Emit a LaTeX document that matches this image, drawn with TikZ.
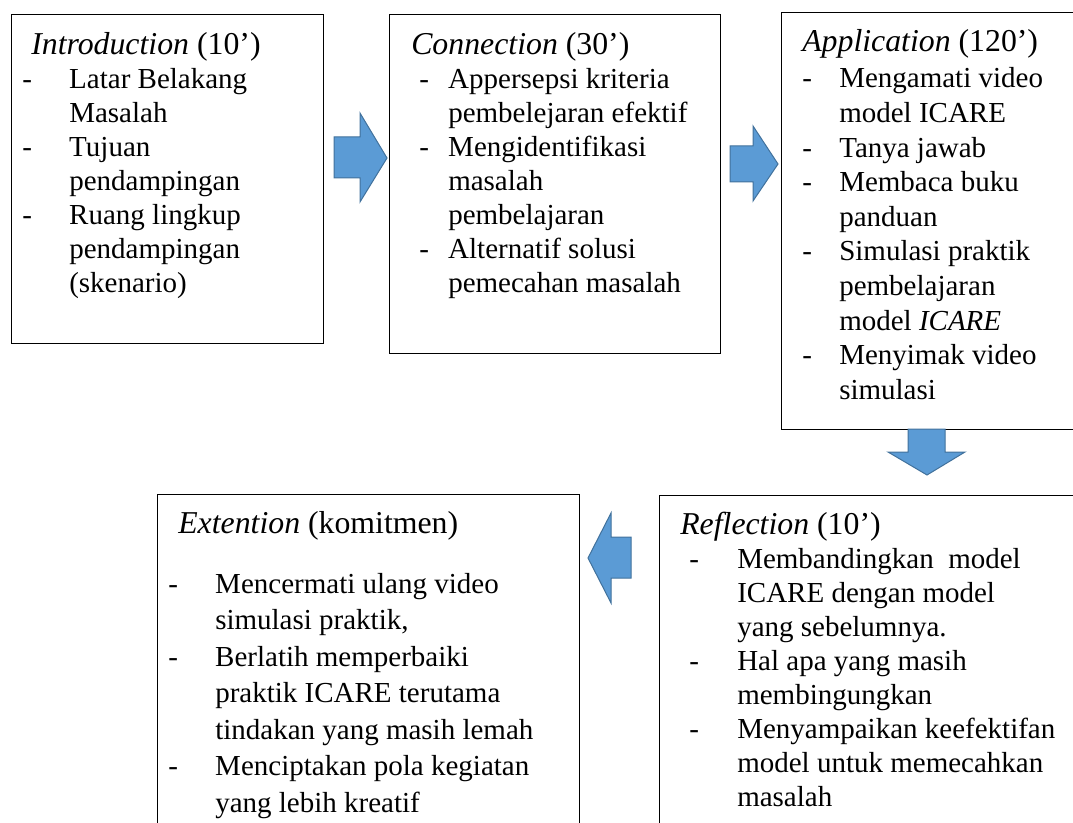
\documentclass[tikz,border=0pt]{standalone}
\usepackage{fontspec}
\setmainfont{Liberation Serif}
\usepackage{array}
\usetikzlibrary{fit}
\definecolor{arrowblue}{HTML}{5B9BD5}
\definecolor{arrowedge}{HTML}{41719C}
\tikzset{
  box/.style={draw=black, line width=0.75pt, inner sep=0pt},
  blk/.style={fill=arrowblue, draw=arrowedge, line width=0.75pt, line join=miter},
  ttl/.style={anchor=base west, inner sep=0pt, font=\fontsize{23.85}{28}\selectfont},
  itm/.style={anchor=base west, inner sep=0pt},
}
\newcommand\itemlist[3]{{\fontsize{21.75}{#2}\selectfont\begin{tabular}[t]{@{}p{#1}@{}l@{}}#3\end{tabular}}}
\begin{document}
\begin{tikzpicture}[x=0.75pt,y=-0.75pt]
\useasboundingbox (0,0) rectangle (1073,823);
\clip (0,0) rectangle (1073,823);
% boxes
\node[box, fit={(11,15)(323,343)}] (intro) {};
\node[box, fit={(389,15)(720,353)}] (conn) {};
\node[box, overlay, fit={(781,13)(1090,429)}] (appl) {};
\node[box, overlay, fit={(659,495)(1090,860)}] (refl) {};
\node[box, overlay, fit={(157,494)(579,860)}] (ext) {};
% texts
\node[ttl] (introT) at (31,55) {\textit{Introduction} (10’)};
\node[itm] (introI) at (22,89) {\itemlist{35.25pt}{25.4pt}{%
- & Latar Belakang\\ & Masalah\\
- & Tujuan\\ & pendampingan\\
- & Ruang lingkup\\ & pendampingan\\ & (skenario)}};
\node[ttl] (connT) at (411,55) {\textit{Connection} (30’)};
\node[itm] (connI) at (419,89) {\itemlist{21.75pt}{25.4pt}{%
- & Appersepsi kriteria\\ & pembelejaran efektif\\
- & Mengidentifikasi\\ & masalah\\ & pembelajaran\\
- & Alternatif solusi\\ & pemecahan masalah}};
\node[ttl] (applT) at (802,52) {\textit{Application} (120’)};
\node[itm] (applI) at (802,88) {\itemlist{27.75pt}{25.95pt}{%
- & Mengamati video\\ & model ICARE\\
- & Tanya jawab\\
- & Membaca buku\\ & panduan\\
- & Simulasi praktik\\ & pembelajaran\\ & model \textit{ICARE}\\
- & Menyimak video\\ & simulasi}};
\node[ttl] (reflT) at (680,534) {\textit{Reflection} (10’)};
\node[itm] (reflI) at (689,568) {\itemlist{36pt}{25.6pt}{%
- & Membandingkan\ \ model\\ & ICARE dengan model\\ & yang sebelumnya.\\
- & Hal apa yang masih\\ & membingungkan\\
- & Menyampaikan keefektifan\\ & model untuk memecahkan\\ & masalah}};
\node[ttl] (extT) at (178,533) {\textit{Extention} (komitmen)};
\node[itm] (extI) at (168,593) {\itemlist{35.25pt}{27.4pt}{%
- & Mencermati ulang video\\ & simulasi praktik,\\
- & Berlatih memperbaiki\\ & praktik ICARE terutama\\ & tindakan yang masih lemah\\
- & Menciptakan pola kegiatan\\ & yang lebih kreatif}};
% block arrows
\draw[blk] (334,137) -- (360,137) -- (360,113) -- (387,158) -- (360,202) -- (360,178) -- (334,178) -- cycle;
\draw[blk] (730,146) -- (753,146) -- (753,126) -- (778,164) -- (753,201) -- (753,182) -- (730,182) -- cycle;
\draw[blk] (908,429) -- (945,429) -- (945,452) -- (965,452) -- (927,475) -- (888,452) -- (908,452) -- cycle;
\draw[blk] (631,537) -- (611,537) -- (611,513) -- (588,558) -- (611,603) -- (611,578) -- (631,578) -- cycle;
\end{tikzpicture}
\end{document}
